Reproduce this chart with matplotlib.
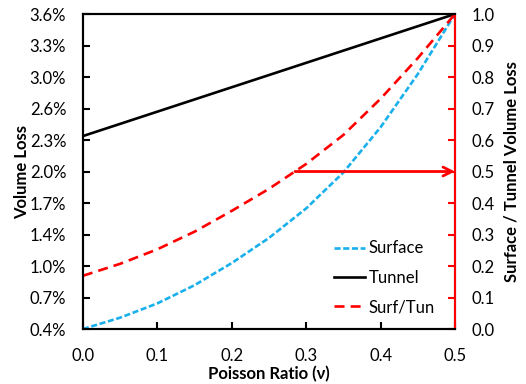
import numpy as np
import matplotlib
matplotlib.use("Agg")
import matplotlib.pyplot as plt
from matplotlib.ticker import FuncFormatter

plt.rcParams['font.family'] = ['Lato', 'DejaVu Sans']
plt.rcParams['font.size'] = 12

# Poisson ratio samples
nu = [0.0, 0.05, 0.1, 0.15, 0.2, 0.25, 0.3, 0.35, 0.4, 0.45, 0.5]
# volume loss (%)
surface = [0.40, 0.515, 0.66, 0.845, 1.07, 1.325, 1.625, 1.99, 2.45, 2.99, 3.60]
tunnel = [2.36, 2.484, 2.608, 2.732, 2.856, 2.98, 3.104, 3.228, 3.352, 3.476, 3.60]
# surface / tunnel ratio
surf_tun = [0.169, 0.207, 0.253, 0.309, 0.375, 0.445, 0.524, 0.616, 0.731, 0.860, 1.0]

arrow_start = 0.285
arrow_level = 0.5

fig = plt.figure(figsize=(5.26, 3.84), dpi=100)
ax = fig.add_axes([0.1576, 0.1432, 0.7074, 0.8203])
ax2 = ax.twinx()

l1, = ax.plot(nu, surface, color='#1ab0ec', lw=1.9, dashes=(2.3, 1.0), label='Surface')
l2, = ax.plot(nu, tunnel, color='black', lw=1.9, label='Tunnel')
l3, = ax2.plot(nu, surf_tun, color='red', lw=1.9, dashes=(3.8, 2.3), label='Surf/Tun')

ax2.annotate('', xy=(0.5, arrow_level), xytext=(arrow_start, arrow_level),
             arrowprops=dict(arrowstyle='->', color='red', lw=2,
                             mutation_scale=16, shrinkA=0, shrinkB=0))

ax.set_xlim(0, 0.5)
ax.set_ylim(0.4, 3.6)
ax2.set_ylim(0, 1.0)
ax.set_xticks(np.arange(0, 0.51, 0.1))
ax.xaxis.set_major_formatter(FuncFormatter(lambda v, p: f"{v:.1f}"))
ax.set_yticks(np.linspace(0.4, 3.6, 11))
ax.yaxis.set_major_formatter(FuncFormatter(lambda v, p: f"{v:.1f}%"))
ax2.set_yticks(np.arange(0, 1.01, 0.1))
ax2.yaxis.set_major_formatter(FuncFormatter(lambda v, p: f"{v:.1f}"))

ax.tick_params(direction='in', length=5, width=1.5)
ax.tick_params(axis='y', pad=12)
ax.tick_params(axis='x', pad=14)
ax2.tick_params(direction='in', length=5, width=1.5, color='red', pad=12)

for s in ax.spines.values():
    s.set_linewidth(1.5)
for s in ax2.spines.values():
    s.set_linewidth(1.5)
ax2.spines['right'].set_color('red')

ax.set_xlabel('Poisson Ratio (ν)', fontweight='bold', labelpad=1)
ax.set_ylabel('Volume Loss', fontweight='bold', labelpad=0)
ax2.set_ylabel('Surface / Tunnel Volume Loss', fontweight='bold', labelpad=6)

ax2.legend(handles=[l1, l2, l3], loc='lower right', bbox_to_anchor=(0.946, 0.044),
           frameon=False, borderpad=0, borderaxespad=0, handlelength=1.85,
           handletextpad=0.2, labelspacing=0.8)

fig.savefig('out.png', dpi=100)
